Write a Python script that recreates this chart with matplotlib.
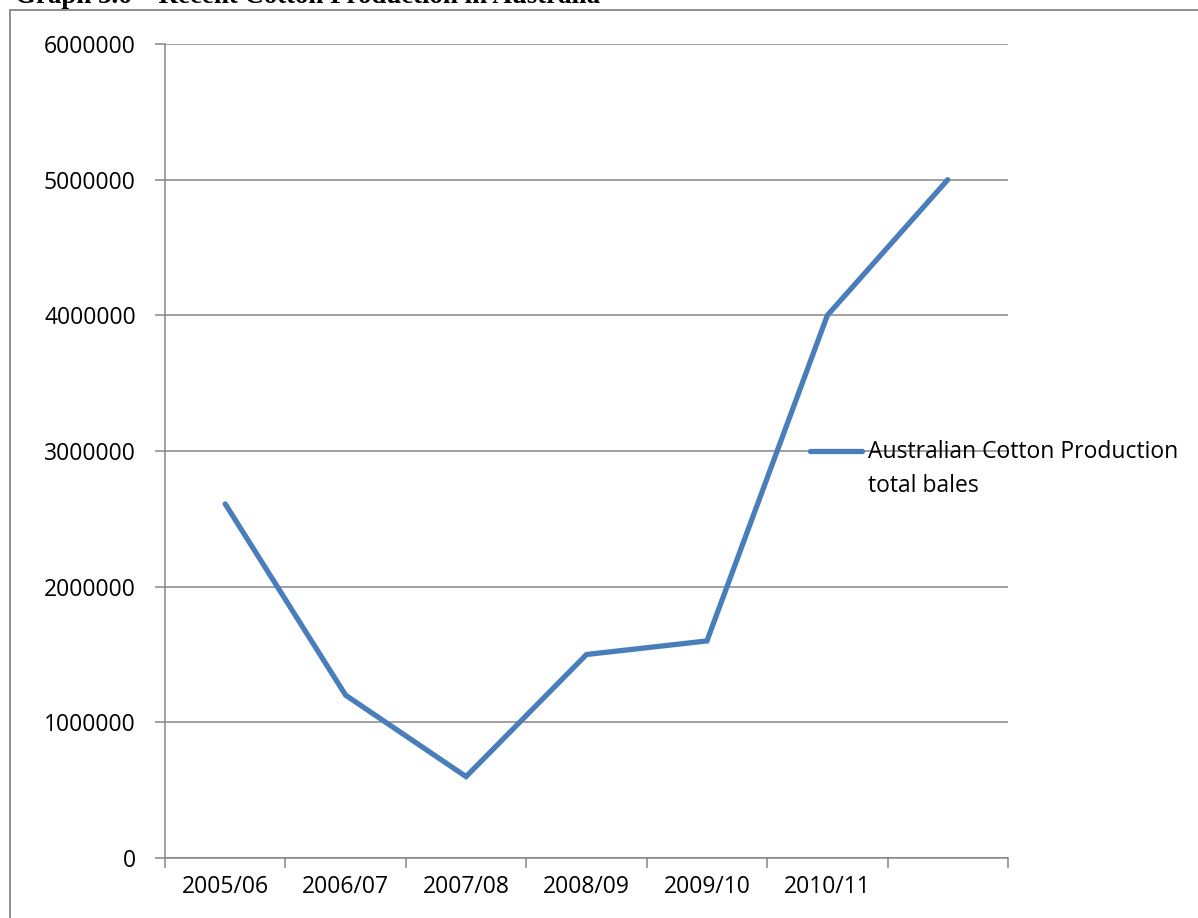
import matplotlib
matplotlib.use("Agg")
import matplotlib.pyplot as plt
from matplotlib.lines import Line2D
from matplotlib.patches import Rectangle
from matplotlib.ticker import FixedLocator, FuncFormatter

# Australian cotton production, total bales per season
seasons = ["2005/06", "2006/07", "2007/08", "2008/09", "2009/10", "2010/11", ""]
bales = [2610000, 1200000, 600000, 1500000, 1600000, 4000000, 5000000]
y_ticks = [0, 1000000, 2000000, 3000000, 4000000, 5000000, 6000000]
series_name = ["Australian Cotton Production", "total bales"]
title = "Graph 3.6 \u2013 Recent Cotton Production in Australia"

W, H = 1198, 918
line_color = "#4A7EBB"
grid_color = "#868686"
label_font = "Open Sans"

fig = plt.figure(figsize=(W / 100, H / 100), dpi=100)
fig.patch.set_facecolor("white")

ax = fig.add_axes([165 / W, 1 - 858 / H, (1008 - 165) / W, (858 - 44) / H])

x = [i + 0.5 for i in range(len(bales))]
ax.plot(x, bales, color=line_color, lw=3.8, solid_capstyle="round",
        solid_joinstyle="miter", zorder=3, clip_on=False)

ax.set_xlim(0, len(seasons))
ax.set_ylim(y_ticks[0], y_ticks[-1])

# category boundaries carry the tick marks, centres carry the labels
ax.xaxis.set_major_locator(FixedLocator(range(len(seasons) + 1)))
ax.xaxis.set_major_formatter(FuncFormatter(lambda v, p: ""))
ax.xaxis.set_minor_locator(FixedLocator(x))
ax.set_xticklabels(seasons, minor=True)
ax.tick_params(axis="x", which="major", length=7, width=1.1, color=grid_color, direction="out")
ax.tick_params(axis="x", which="minor", length=0, pad=12, labelsize=16.5)

ax.yaxis.set_major_locator(FixedLocator(y_ticks))
ax.yaxis.set_major_formatter(FuncFormatter(lambda v, p: f"{int(v)}"))
ax.tick_params(axis="y", length=7, width=1.1, color=grid_color, direction="out",
               pad=14, labelsize=16.5)

for lab in ax.get_xticklabels(minor=True) + ax.get_yticklabels():
    lab.set_fontfamily(label_font)
    lab.set_color("black")

ax.grid(axis="y", color=grid_color, lw=1.1)
ax.set_axisbelow(True)
for side in ("top", "right"):
    ax.spines[side].set_visible(False)
for side in ("left", "bottom"):
    ax.spines[side].set_color(grid_color)
    ax.spines[side].set_linewidth(1.1)

# legend entry to the right of the plot
ly = 1 - 451 / H
fig.add_artist(Line2D([810 / W, 862 / W], [ly, ly], color=line_color, lw=3.8,
                      solid_capstyle="round", transform=fig.transFigure, zorder=5))
for i, line in enumerate(series_name):
    fig.text(868 / W, 1 - (458 + 34 * i) / H, line, fontsize=16.5, family=label_font,
             ha="left", va="baseline", zorder=6)

# chart border
fig.add_artist(Rectangle((9.5 / W, -0.1), 1.0, 1.1 - 10.5 / H, fill=False,
                         edgecolor=grid_color, lw=1.3, transform=fig.transFigure))

fig.text(15 / W, 1 - 3 / H, title, fontsize=19.4, family="Liberation Serif",
         weight="bold", ha="left", va="baseline")

fig.savefig("out.png", dpi=100, facecolor="white")
